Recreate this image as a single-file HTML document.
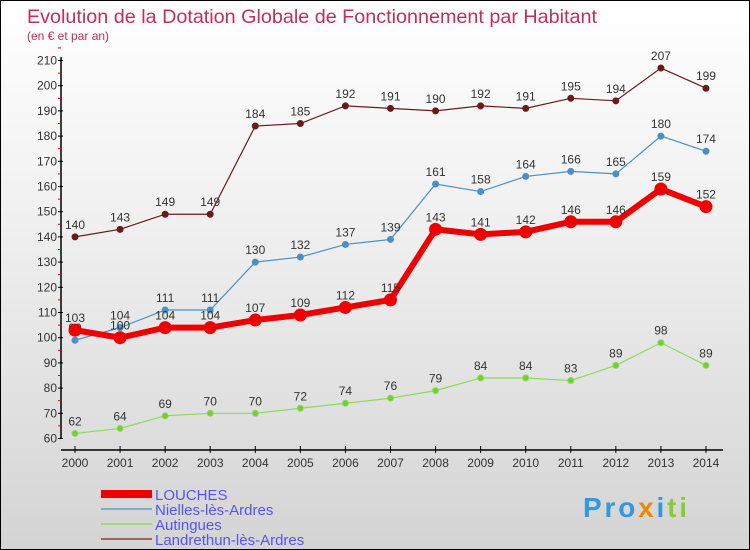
<!DOCTYPE html>
<html><head><meta charset="utf-8"><style>
body{margin:0}
#c{width:748px;height:548px;border:1px solid #000;background:linear-gradient(#ffffff,#f0f0f0 40%,#d4d4d4);position:relative;overflow:hidden;font-family:"Liberation Sans",sans-serif}
</style></head><body>
<div id="c">
<svg id="s" width="748" height="548" xmlns="http://www.w3.org/2000/svg">
<text x="26" y="22" font-size="19.8" fill="#c0305a" textLength="570">Evolution de la Dotation Globale de Fonctionnement par Habitant</text>
<text x="26" y="39" font-size="12" fill="#c0305a">(en € et par an)</text>
</svg>
</div>
<script>
const years=[2000,2001,2002,2003,2004,2005,2006,2007,2008,2009,2010,2011,2012,2013,2014];
const louches=[103,100,104,104,107,109,112,115,143,141,142,146,146,159,152];
const nielles=[99,104,111,111,130,132,137,139,161,158,164,166,165,180,174];
const autingues=[62,64,69,70,70,72,74,76,79,84,84,83,89,98,89];
const landrethun=[140,143,149,149,184,185,192,191,190,192,191,195,194,207,199];
const yTicks=[60,70,80,90,100,110,120,130,140,150,160,170,180,190,200,210];
const NS="http://www.w3.org/2000/svg";
const s=document.getElementById('s');
const X=i=>74+i*45.07;
const Y=v=>437.5-(v-60)*2.52;
function mk(t,a,p){const e=document.createElementNS(NS,t);for(const k in a)e.setAttribute(k,a[k]);(p||s).appendChild(e);return e;}
let ya=mk('line',{x1:60,y1:56,x2:60,y2:438,stroke:'#000','stroke-width':1.5});


let xa=mk('line',{x1:60,y1:449,x2:722,y2:449,stroke:'#000','stroke-width':1.5});


yTicks.forEach(v=>{
  mk('line',{x1:57,y1:Y(v),x2:62,y2:Y(v),stroke:'#000'});
  mk('line',{x1:57,y1:Y(v+5),x2:60,y2:Y(v+5),stroke:'#e00'});
  const t=mk('text',{x:56,y:Y(v)+4,'font-size':12,'text-anchor':'end',fill:'#333'});
  t.textContent=v;
  
  
});
years.forEach((y,i)=>{
  mk('line',{x1:X(i),y1:445,x2:X(i),y2:452,stroke:'#000'});
  const t=mk('text',{x:X(i),y:466,'font-size':12,'text-anchor':'middle',fill:'#333'});
  t.textContent=y;
  
  
});
function series(vals,color,w,r,dot,name){
  const g=mk('g',{});
  
  
  mk('polyline',{points:vals.map((v,i)=>X(i)+','+Y(v)).join(' '),fill:'none',stroke:color,'stroke-width':w},g);
  vals.forEach((v,i)=>{
    const c=mk('circle',{cx:X(i),cy:Y(v),r:r,fill:dot,stroke:color,'stroke-width':1},g);
    
    
    const t=mk('text',{x:X(i),y:Y(v)-8,'font-size':12,'text-anchor':'middle',fill:'#333'},g);
    t.textContent=v;
  });
}
series(landrethun,'#6b1a1a',1.2,3,'#6b1a1a','series-landrethun');
series(nielles,'#4a90c8',1.2,3,'#4a90c8','series-nielles');
series(autingues,'#88dd55',1.2,3,'#77cc33','series-autingues');
series(louches,'#ee0000',6,6,'#ee0000','series-louches');
const leg=[['LOUCHES','#ee0000',8],['Nielles-lès-Ardres','#7aaed0',2],['Autingues','#99dd77',2],['Landrethun-lès-Ardres','#996666',2]];
leg.forEach((l,i)=>{
  const y=493+i*15;
  const g=mk('g',{});
  
  
  mk('line',{x1:100,y1:y,x2:151,y2:y,stroke:l[1],'stroke-width':l[2]},g);
  const t=mk('text',{x:154,y:y+6,'font-size':15,fill:'#5555ee'},g);
  t.textContent=l[0];
});
const p=mk('text',{x:582,y:516,'font-size':28,'font-weight':'bold',fill:'#3399dd',textLength:104});


p.innerHTML='<tspan fill="#3399dd">Pro</tspan><tspan fill="#ee8800">x</tspan><tspan fill="#3399dd">i</tspan><tspan fill="#88cc33">ti</tspan>';
</script>
</body></html>
